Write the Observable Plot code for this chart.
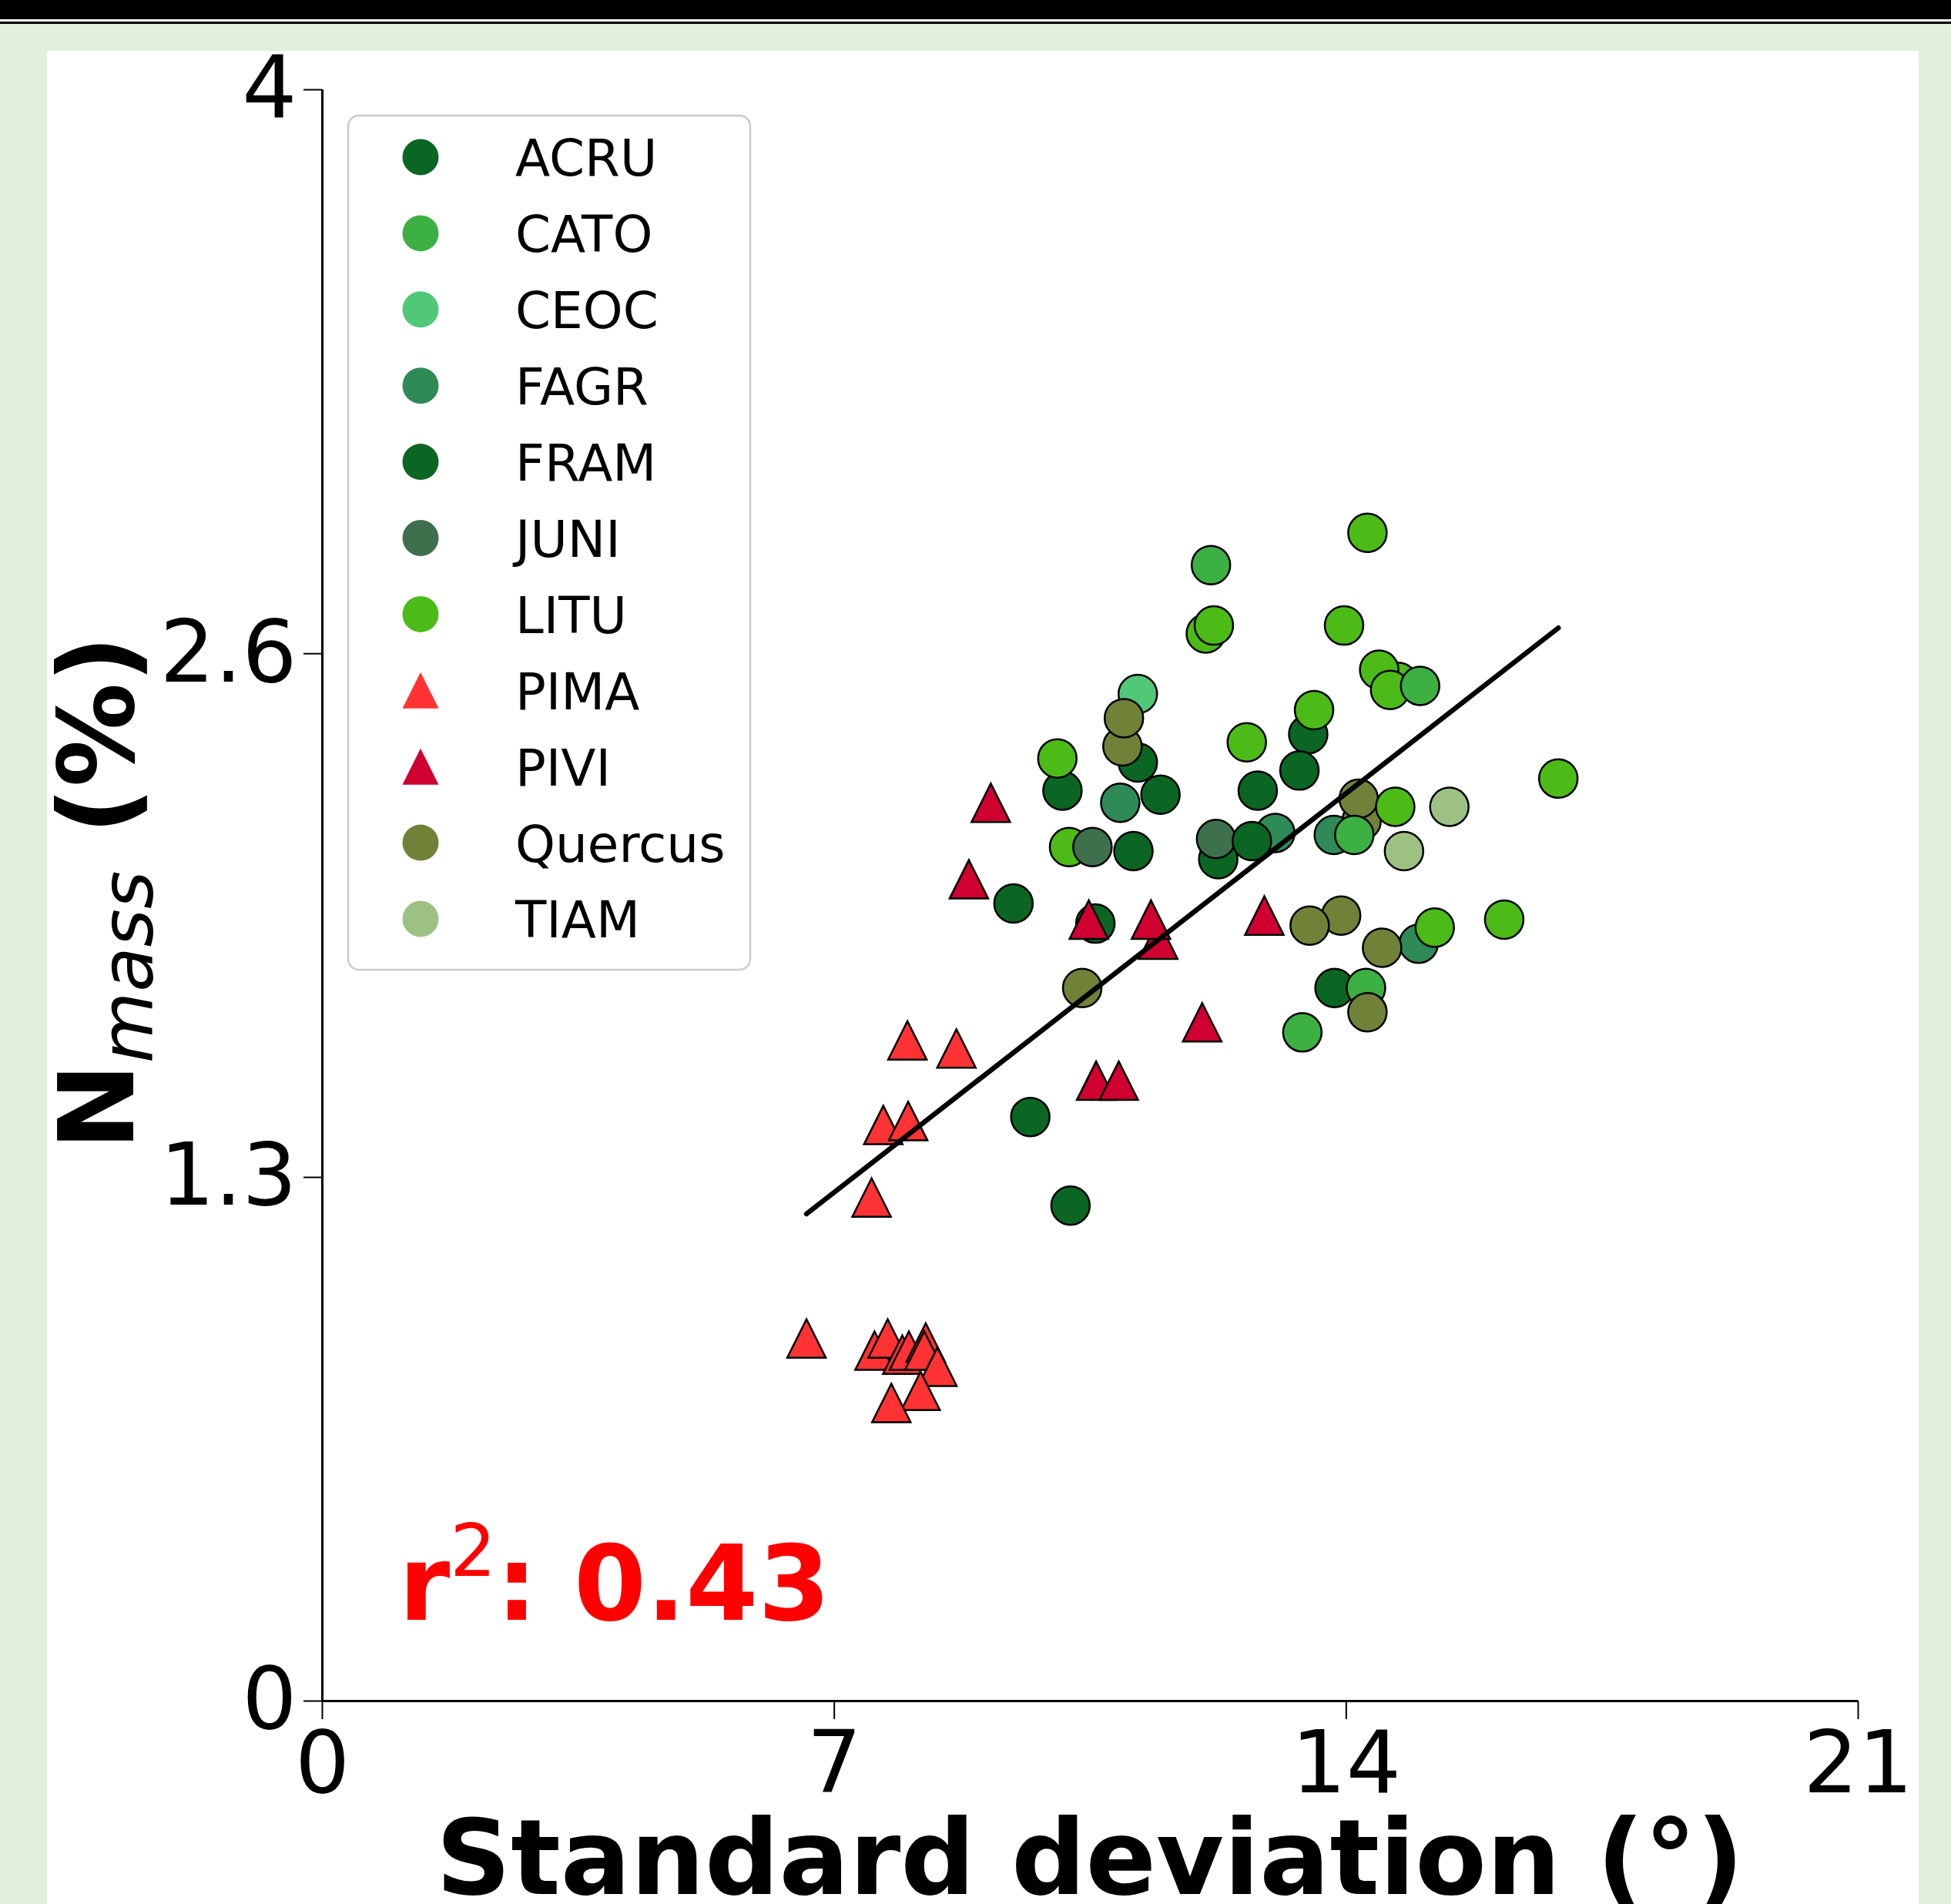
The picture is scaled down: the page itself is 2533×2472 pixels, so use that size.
<!DOCTYPE html>
<html>
<head>
<meta charset="utf-8">
<script src="https://cdn.jsdelivr.net/npm/d3@7"></script>
<script src="https://cdn.jsdelivr.net/npm/@observablehq/plot@0.6"></script>
<style>
  html, body { margin: 0; padding: 0; background: #e2efda; width: 2533px; height: 2472px; overflow: hidden; }
  #band1 { position: absolute; left: 0; top: 0; width: 2533px; height: 25px; background: #000; }
  #band2 { position: absolute; left: 0; top: 25px; width: 2533px; height: 3px; background: #fff; }
  #band3 { position: absolute; left: 0; top: 28px; width: 2533px; height: 3px; background: #000; }
  #panel { position: absolute; left: 61px; top: 66px; width: 2430px; height: 2406px; background: #fff; overflow: hidden; }
</style>
</head>
<body>
<div id="band1"></div><div id="band2"></div><div id="band3"></div>
<div id="panel"></div>
<script>
// ---- categories ----
const species = ["ACRU", "CATO", "CEOC", "FAGR", "FRAM", "JUNI", "LITU", "PIMA", "PIVI", "Quercus", "TIAM"];
const speciesColors = ["#0b6623", "#3cb043", "#50c878", "#2e8b57", "#0b6623", "#3f704d", "#4cbb17", "#ff3333", "#cf0030", "#708238", "#9dc183"];
const speciesShapes = ["circle", "circle", "circle", "circle", "circle", "circle", "circle", "triangle", "triangle", "circle", "circle"];

// ---- points (in drawing order) ----
const pointSpecies = [
  "CEOC", "ACRU", "Quercus", "Quercus", "FRAM", "LITU", "LITU", "JUNI", "FAGR", "ACRU",
  "FRAM", "PIVI", "PIVI", "ACRU", "FRAM", "PIVI", "PIVI", "PIVI", "Quercus", "PIMA",
  "PIMA", "PIVI", "PIVI", "ACRU", "PIMA", "PIMA", "PIMA", "FRAM",
  "PIMA", "PIMA", "PIMA", "PIMA", "PIMA", "PIMA", "PIMA", "PIMA", "PIMA", "PIMA",
  "LITU", "LITU", "CATO", "LITU", "LITU", "LITU", "LITU", "LITU", "CATO", "FRAM",
  "LITU", "LITU", "ACRU", "FRAM", "Quercus", "Quercus", "LITU", "TIAM", "LITU", "ACRU",
  "JUNI", "FAGR", "FRAM", "FAGR", "CATO", "TIAM", "PIVI", "Quercus", "Quercus", "FAGR",
  "LITU", "Quercus", "LITU", "ACRU", "CATO", "Quercus", "PIVI", "CATO"
];
const pointSD = [
  11.15, 11.15, 10.94, 10.96, 10.12, 10.05, 10.21, 10.53, 10.91, 11.46,
  11.09, 9.14, 8.84, 9.45, 10.57, 10.48, 11.43, 11.33, 10.39, 8.00,
  8.67, 10.58, 10.89, 9.68, 7.67, 8.01, 7.51, 10.23,
  6.62, 7.55, 7.73, 7.93, 8.02, 8.25, 8.23, 8.41, 8.18, 7.78,
  12.08, 12.19, 12.15, 14.29, 13.97, 14.71, 14.45, 14.60, 15.01, 13.48,
  13.56, 12.64, 13.36, 12.79, 14.21, 14.17, 14.67, 15.41, 16.90, 12.25,
  12.22, 13.03, 12.71, 13.83, 14.11, 14.79, 12.88, 13.93, 13.50, 14.99,
  15.21, 14.49, 16.16, 13.84, 14.27, 14.29, 12.03, 13.40
];
const pointN = [
  2.50, 2.33, 2.37, 2.44, 2.26, 2.34, 2.12, 2.12, 2.23, 2.25,
  2.11, 2.23, 2.04, 1.98, 1.93, 1.94, 1.89, 1.94, 1.77, 1.64,
  1.62, 1.54, 1.54, 1.45, 1.43, 1.44, 1.25, 1.23,
  0.90, 0.87, 0.90, 0.86, 0.87, 0.89, 0.87, 0.83, 0.77, 0.74,
  2.65, 2.67, 2.82, 2.90, 2.67, 2.53, 2.56, 2.51, 2.52, 2.40,
  2.46, 2.38, 2.31, 2.26, 2.185, 2.24, 2.22, 2.22, 2.29, 2.09,
  2.14, 2.155, 2.135, 2.15, 2.15, 2.11, 1.95, 1.95, 1.925, 1.88,
  1.92, 1.87, 1.94, 1.77, 1.77, 1.71, 1.685, 1.66
];

// ---- axes ----
const xTicks = [0, 7, 14, 21];
const yTicks = [0, 1.3, 2.6, 4];
const xDomain = [0, 21];
const yDomain = [0, 4];
const xLabel = "Standard deviation (°)";
const r2Value = "0.43";

// ---- build ----
const rows = pointSD.map((x, i) => ({sd: x, n: pointN[i], species: pointSpecies[i]}));
const shapeOf = Object.fromEntries(species.map((s, i) => [s, speciesShapes[i]]));
const mplTriangle = {
  draw(ctx, size) {
    const r = Math.sqrt(size / Math.PI);
    ctx.moveTo(0, -r); ctx.lineTo(r, r); ctx.lineTo(-r, r); ctx.closePath();
  }
};
const symbols = {circle: d3.symbolCircle, triangle: mplTriangle};

const W = 2430, H = 2406;
const plot = Plot.plot({
  width: W, height: H,
  marginLeft: 357, marginRight: 79, marginTop: 50, marginBottom: 264,
  style: {background: "transparent", fontFamily: "'DejaVu Sans', sans-serif", fontSize: "112px", color: "#000"},
  x: {domain: xDomain},
  y: {domain: yDomain},
  color: {domain: species, range: speciesColors},
  marks: [
    Plot.axisX({ticks: xTicks, tickSize: 24, tickPadding: 15, strokeWidth: 2, label: null, tickFormat: d => String(d)}),
    Plot.axisY({ticks: yTicks, tickSize: 24, tickPadding: 9, strokeWidth: 2, label: null, tickFormat: d => String(d)}),
    Plot.ruleX([0], {strokeWidth: 3}),
    Plot.ruleY([0], {strokeWidth: 3}),
    Plot.dot(rows, {x: "sd", y: "n", fill: "species", symbol: d => symbols[shapeOf[d.species]], r: 25, stroke: "black", strokeWidth: 2.5}),
    Plot.linearRegressionY(rows, {x: "sd", y: "n", stroke: "black", strokeWidth: 6.5, ci: 0})
  ]
});
document.getElementById("panel").appendChild(plot);

const svg = d3.select(plot);
const font = "'DejaVu Sans', sans-serif";

// legend
const leg = svg.append("g").attr("text-anchor", "start");
leg.append("rect").attr("x", 391).attr("y", 84).attr("width", 522).attr("height", 1109)
  .attr("rx", 14).attr("fill", "white").attr("fill-opacity", 0.8)
  .attr("stroke", "#cccccc").attr("stroke-width", 2.5);
species.forEach((s, i) => {
  const cy = 138 + 98.9 * i;
  leg.append("path").attr("transform", `translate(485,${cy})`)
    .attr("d", d3.symbol(symbols[speciesShapes[i]], Math.PI * 23.5 * 23.5)())
    .attr("fill", speciesColors[i]);
  leg.append("text").attr("x", 608).attr("y", cy).attr("dy", "0.37em").attr("text-anchor", "start")
    .attr("font-family", font).attr("font-size", 66).attr("fill", "#000").text(s);
});

// x label
svg.append("text").attr("x", 1354).attr("y", 2393).attr("text-anchor", "middle")
  .attr("font-family", font).attr("font-size", 135).attr("font-weight", "bold").attr("fill", "#000")
  .text(xLabel);

// y label: N_mass (%)
const yl = svg.append("text").attr("transform", "translate(112,1093) rotate(-90)")
  .attr("text-anchor", "middle").attr("font-family", font).attr("fill", "#000");
yl.append("tspan").attr("font-size", 135).attr("font-weight", "bold").text("N");
yl.append("tspan").attr("font-size", 95).attr("font-style", "italic").attr("dy", 25).text("mass");
yl.append("tspan").attr("font-size", 135).attr("font-weight", "bold").attr("dy", -25).text(" (%)");

// r² annotation at axes fraction (0.05, 0.05)
const xs = plot.scale("x"), ys = plot.scale("y");
const rt = svg.append("text")
  .attr("x", xs.apply(xDomain[0] + 0.05 * (xDomain[1] - xDomain[0])))
  .attr("y", ys.apply(yDomain[0] + 0.05 * (yDomain[1] - yDomain[0])))
  .attr("text-anchor", "start")
  .attr("font-family", font).attr("fill", "#ff0000").attr("font-weight", "bold").attr("font-size", 135);
rt.append("tspan").text("r");
rt.append("tspan").attr("font-size", 94).attr("font-weight", "normal").attr("dy", -57).text("2");
rt.append("tspan").attr("dy", 57).text(": " + r2Value);
</script>
</body>
</html>
